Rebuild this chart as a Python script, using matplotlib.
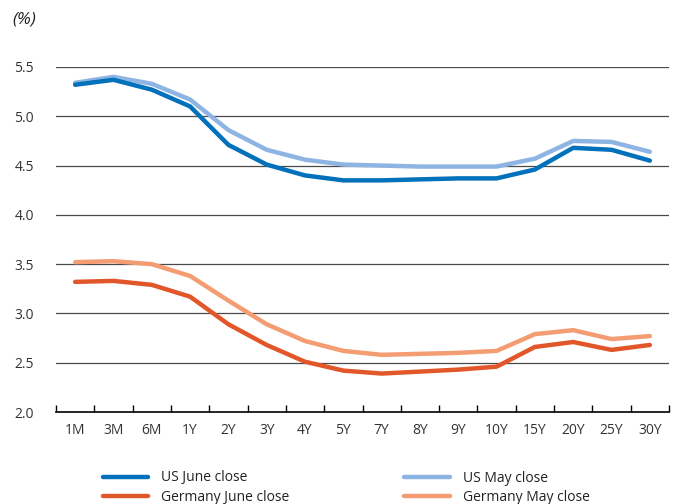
import matplotlib
matplotlib.use("Agg")
import matplotlib.pyplot as plt
import numpy as np

plt.rcParams['font.family'] = ['Open Sans', 'DejaVu Sans']

tenors = ["1M", "3M", "6M", "1Y", "2Y", "3Y", "4Y", "5Y", "7Y", "8Y", "9Y", "10Y",
          "15Y", "20Y", "25Y", "30Y"]
us_june = [5.32, 5.37, 5.27, 5.10, 4.71, 4.51, 4.40, 4.35, 4.35, 4.36, 4.37, 4.37,
           4.46, 4.68, 4.66, 4.55]
us_may = [5.34, 5.40, 5.33, 5.17, 4.86, 4.66, 4.56, 4.51, 4.50, 4.49, 4.49, 4.49,
          4.57, 4.75, 4.74, 4.64]
de_june = [3.32, 3.33, 3.29, 3.17, 2.89, 2.68, 2.51, 2.42, 2.39, 2.41, 2.43, 2.46,
           2.66, 2.71, 2.63, 2.68]
de_may = [3.52, 3.53, 3.50, 3.38, 3.13, 2.89, 2.72, 2.62, 2.58, 2.59, 2.60, 2.62,
          2.79, 2.83, 2.74, 2.77]
yticks = [2.0, 2.5, 3.0, 3.5, 4.0, 4.5, 5.0, 5.5]

fig = plt.figure(figsize=(6.78, 5.04), dpi=100)
ax = fig.add_axes([56 / 678, 1 - 412 / 504, 613 / 678, 345 / 504])

x = np.arange(len(tenors))
lw = 3.2
ax.plot(x, us_june, color='#0071BA', lw=lw, solid_capstyle='round', label='US June close', zorder=4)
ax.plot(x, us_may, color='#8EB4E3', lw=lw, solid_capstyle='round', label='US May close', zorder=3)
ax.plot(x, de_june, color='#E2572A', lw=lw, solid_capstyle='round', label='Germany June close', zorder=4)
ax.plot(x, de_may, color='#F49C72', lw=lw, solid_capstyle='round', label='Germany May close', zorder=3)

ax.set_xlim(-0.5, len(tenors) - 0.5)
ax.set_ylim(2.0, 5.5)
for y in yticks[1:]:
    ax.axhline(y, color='#4a4a4a', lw=0.9, zorder=1)

ax.set_yticks(yticks)
ax.set_yticklabels([f"{v:.1f}" for v in yticks], color='#333333', fontsize=10)
ax.tick_params(axis='y', length=0, pad=16)

ax.set_xticks(x)
ax.set_xticklabels(tenors, color='#333333', fontsize=10)
ax.set_xticks(np.arange(-0.5, len(tenors)), minor=True)
ax.tick_params(axis='x', which='major', length=0, pad=8)
ax.tick_params(axis='x', which='minor', direction='in', length=5, width=1, color='black')

for s in ['top', 'right', 'left']:
    ax.spines[s].set_visible(False)
ax.spines['bottom'].set_color('black')
ax.spines['bottom'].set_linewidth(1.2)

fig.text(12 / 678, 1 - 20 / 504, "(%)", fontsize=12.5, style='italic', color='#222222', va='center')

handles, labels = ax.get_legend_handles_labels()
order = [0, 2, 1, 3]
fig.legend([handles[i] for i in order], [labels[i] for i in order], ncol=2,
           loc='upper left', bbox_to_anchor=(90 / 678, 1 - 458 / 504), frameon=False,
           fontsize=10, handlelength=3.3, handletextpad=0.9, columnspacing=8.3,
           labelspacing=0.3, labelcolor='#222222')

fig.savefig("out.png", dpi=100)
